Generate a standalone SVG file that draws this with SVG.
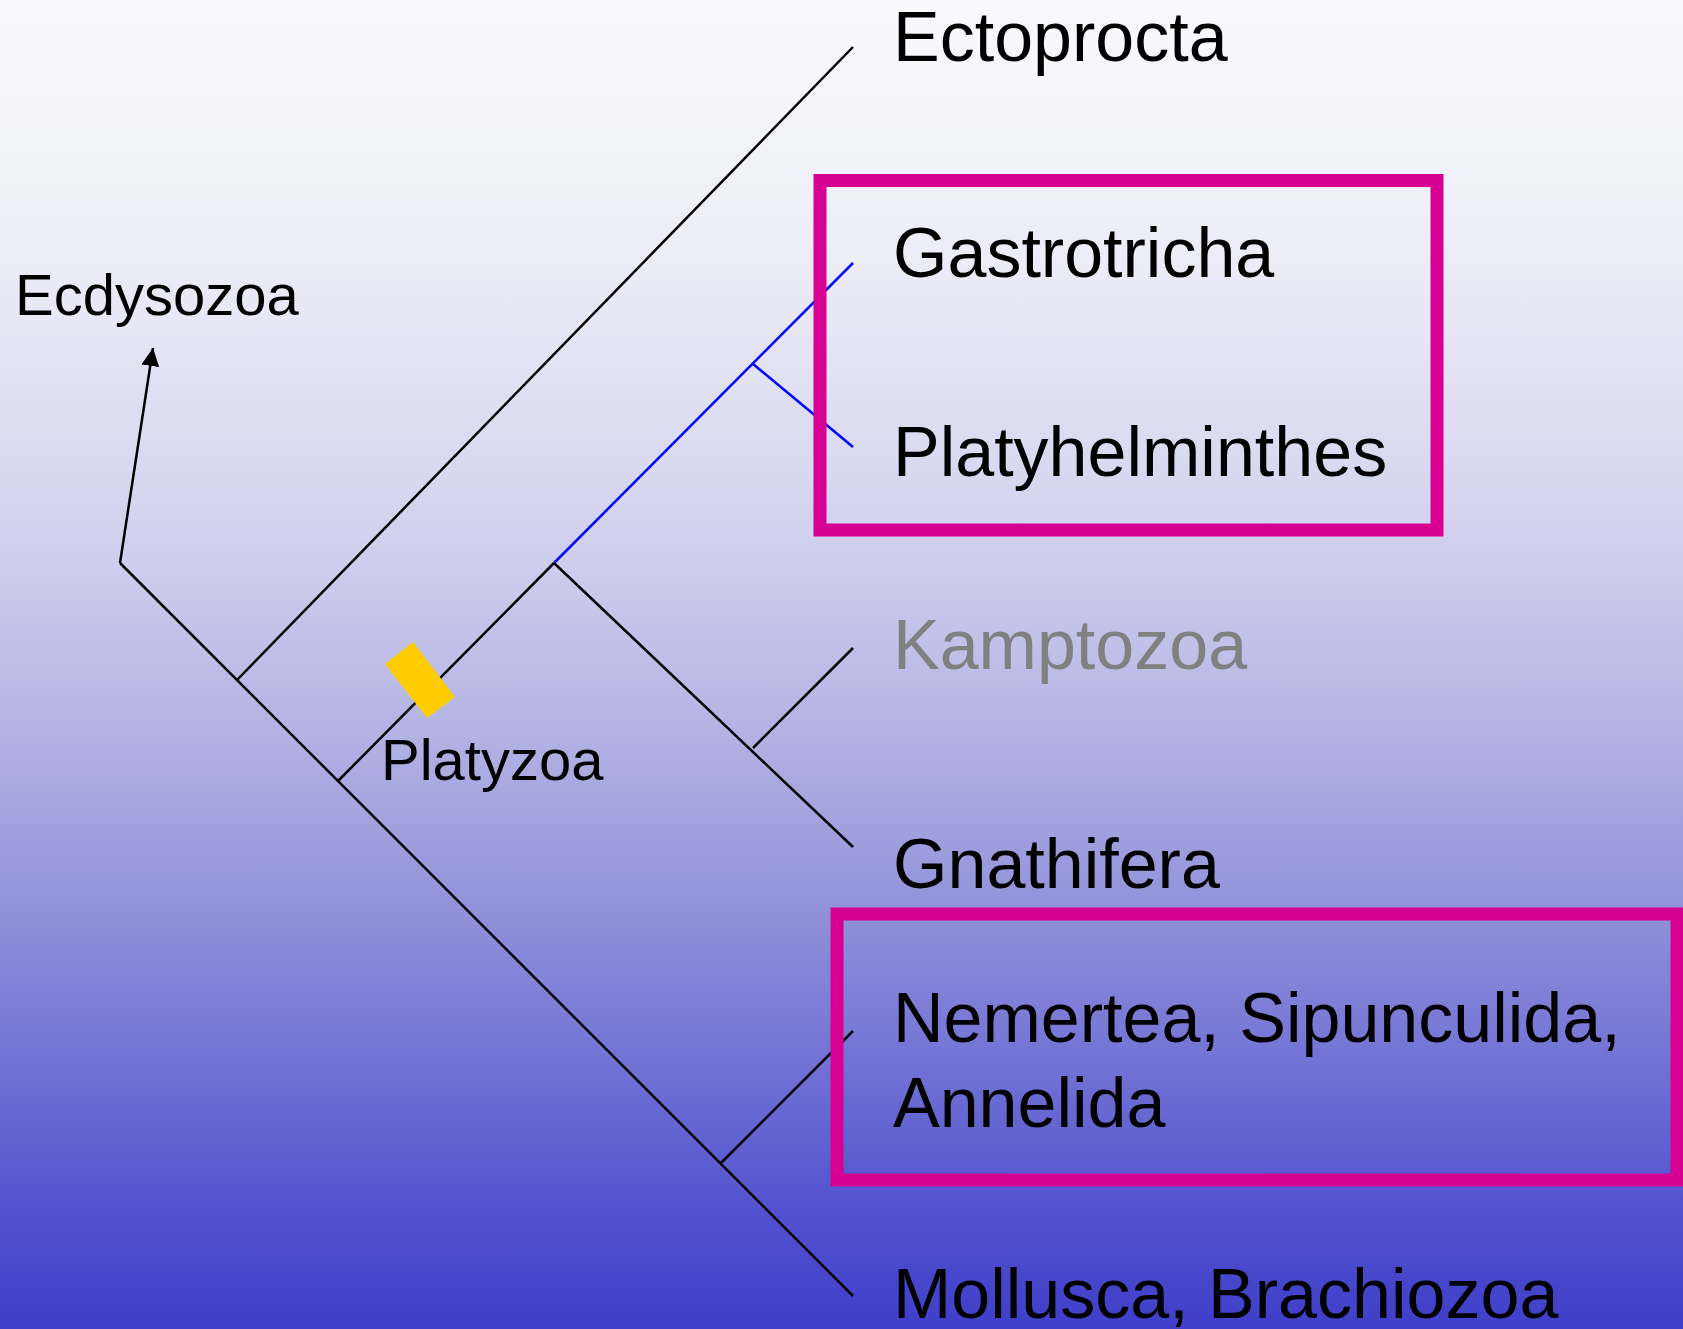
<svg xmlns="http://www.w3.org/2000/svg" width="1683" height="1329" viewBox="0 0 1683 1329">
  <defs>
    <linearGradient id="bg" x1="0" y1="0" x2="0" y2="1">
      <stop offset="0" stop-color="#FAFAFD"/>
      <stop offset="0.2" stop-color="#ECECF7"/>
      <stop offset="0.4" stop-color="#D2D2EE"/>
      <stop offset="0.55" stop-color="#B3B3E4"/>
      <stop offset="0.65" stop-color="#9A9ADD"/>
      <stop offset="0.8" stop-color="#7272D5"/>
      <stop offset="0.9" stop-color="#5555CF"/>
      <stop offset="1" stop-color="#3E3ECA"/>
    </linearGradient>
    <marker id="arrow" viewBox="0 0 18 18" refX="18" refY="9" markerWidth="18" markerHeight="18" markerUnits="userSpaceOnUse" orient="auto">
      <path d="M0,0 L18,9 L0,18 z" fill="#000"/>
    </marker>
    <style>
      .taxon { font-family: "Liberation Sans", Arial, sans-serif; font-size: 70px; fill: #000; }
      .small { font-family: "Liberation Sans", Arial, sans-serif; font-size: 58px; fill: #000; }
      .grey { fill: #808080; }
      .br { stroke: #000; stroke-width: 2.5; fill: none; stroke-linecap: butt; }
      .blue { stroke: #0000FF; stroke-width: 2.5; fill: none; }
      .box { fill: none; stroke: #D60093; stroke-width: 13; }
    </style>
  </defs>
  <rect x="0" y="0" width="1683" height="1329" fill="url(#bg)"/>

  <g id="connectors">
    <line class="br" x1="120" y1="563" x2="853" y2="1296"/>
    <line class="br" x1="120" y1="563" x2="153" y2="348" marker-end="url(#arrow)"/>
    <line class="br" x1="237" y1="680" x2="853" y2="47"/>
    <line class="br" x1="338" y1="781" x2="554" y2="563"/>
    <line class="blue" x1="554" y1="563" x2="853" y2="263"/>
    <line class="blue" x1="753" y1="364" x2="853" y2="447"/>
    <line class="br" x1="554" y1="563" x2="853" y2="847"/>
    <line class="br" x1="753" y1="748" x2="853" y2="648"/>
    <line class="br" x1="721" y1="1163" x2="853" y2="1031"/>
  </g>

  <g id="platyzoa-marker">
    <polygon points="385,664 413,642 455,697 427,718" fill="#FFCC00"/>
  </g>

  <g id="box-platyzoa-group">
    <rect class="box" x="820" y="180.5" width="617" height="349.5"/>
  </g>
  <g id="box-trochozoa">
    <rect class="box" x="837" y="914" width="840" height="266"/>
  </g>

  <g id="node-ecdysozoa"><text class="small" x="15" y="315">Ecdysozoa</text></g>
  <g id="node-platyzoa"><text class="small" x="381" y="780">Platyzoa</text></g>
  <g id="node-ectoprocta"><text class="taxon" x="893" y="61">Ectoprocta</text></g>
  <g id="node-gastrotricha"><text class="taxon" x="893" y="277">Gastrotricha</text></g>
  <g id="node-platyhelminthes"><text class="taxon" x="893" y="476">Platyhelminthes</text></g>
  <g id="node-kamptozoa"><text class="taxon grey" x="893" y="669">Kamptozoa</text></g>
  <g id="node-gnathifera"><text class="taxon" x="893" y="888">Gnathifera</text></g>
  <g id="node-nemertea"><text class="taxon" x="893" y="1042">Nemertea, Sipunculida,</text><text class="taxon" x="893" y="1127">Annelida</text></g>
  <g id="node-mollusca"><text class="taxon" x="893" y="1318">Mollusca, Brachiozoa</text></g>
</svg>
